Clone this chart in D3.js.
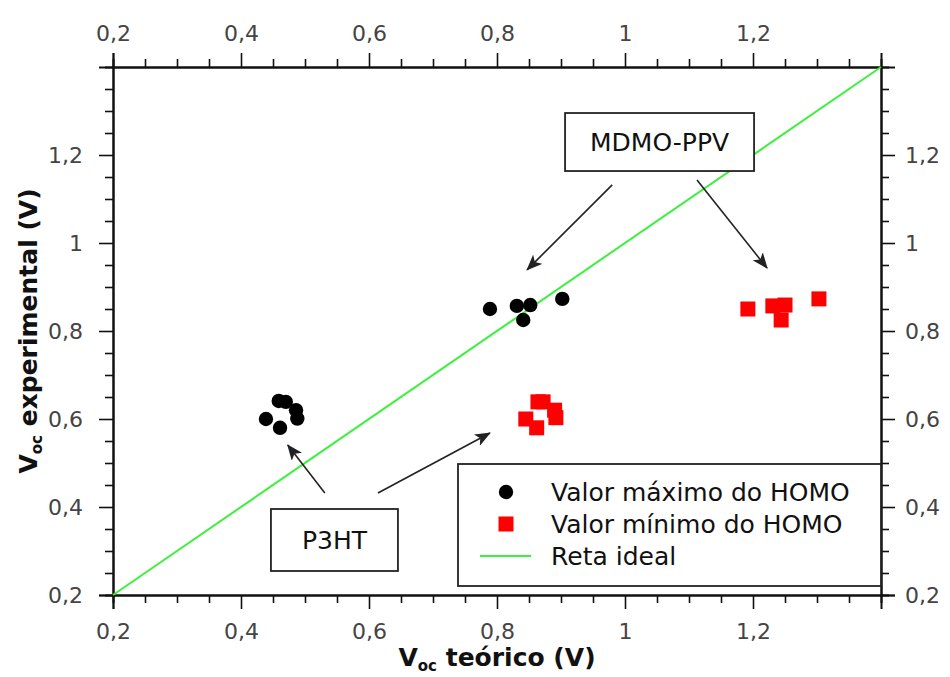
<!DOCTYPE html>
<html>
<head>
<meta charset="utf-8">
<script src="https://cdn.jsdelivr.net/npm/d3@7/dist/d3.min.js"></script>
<style>
  html, body { margin: 0; padding: 0; background: #fff; }
  svg { display: block; }
  text { font-family: "DejaVu Sans", sans-serif; }
</style>
</head>
<body>
<svg id="chart" width="950" height="677"></svg>
<script>
// ---------- data ----------
const maxHomoX = [0.439, 0.459, 0.470, 0.461, 0.486, 0.488, 0.789, 0.831, 0.852, 0.841, 0.902];
const maxHomoY = [0.600, 0.641, 0.639, 0.580, 0.620, 0.601, 0.850, 0.857, 0.859, 0.825, 0.873];
const minHomoX = [0.845, 0.864, 0.872, 0.862, 0.890, 0.892, 1.192, 1.231, 1.250, 1.244, 1.303];
const minHomoY = [0.600, 0.639, 0.639, 0.580, 0.620, 0.603, 0.850, 0.857, 0.859, 0.825, 0.873];
const idealLine = [0.2, 1.4];
const majorTicks = [0.2, 0.4, 0.6, 0.8, 1.0, 1.2];
const tickLabels = ["0,2", "0,4", "0,6", "0,8", "1", "1,2"];
const minorTicks = [0.25, 0.3, 0.35, 0.45, 0.5, 0.55, 0.65, 0.7, 0.75, 0.85, 0.9, 0.95, 1.05, 1.1, 1.15, 1.25, 1.3, 1.35];
const legendLabels = ["Valor máximo do HOMO", "Valor mínimo do HOMO", "Reta ideal"];
const annotationLabels = ["MDMO-PPV", "P3HT"];
const annotationAnchor = [[1.054, 1.2295], [0.546, 0.325]];
// arrows: [x1, y1, x2, y2] in data units
const arrowsMDMO = [[0.98, 1.132, 0.847, 0.939], [1.1125, 1.143, 1.222, 0.943]];
const arrowsP3HT = [[0.531, 0.432, 0.473, 0.541], [0.614, 0.432, 0.789, 0.568]];
const xTitle = ["V", "oc", " teórico (V)"];
const yTitle = ["V", "oc", " experimental (V)"];

// ---------- layout ----------
const svg = d3.select("#chart");
const L = 113, R = 881, T = 67, B = 595;
const x = d3.scaleLinear().domain([0.2, 1.4]).range([L, R]);
const y = d3.scaleLinear().domain([0.2, 1.4]).range([B, T]);

const fmt = d => tickLabels[majorTicks.findIndex(v => Math.abs(v - d) < 1e-9)];

function styleAxis(g) {
  g.select(".domain").attr("stroke", "#111").attr("stroke-width", 2);
  g.selectAll(".tick line").attr("stroke", "#111").attr("stroke-width", 1.6);
  g.selectAll(".tick text").attr("fill", "#444").style("font-size", "22px")
    .style("font-family", "'DejaVu Sans', sans-serif");
}

// minor ticks
const minorAxes = [
  [d3.axisBottom(x), `translate(0,${B})`],
  [d3.axisTop(x), `translate(0,${T})`],
  [d3.axisLeft(y), `translate(${L},0)`],
  [d3.axisRight(y), `translate(${R},0)`]
];
minorAxes.forEach(([ax, tr]) => {
  const g = svg.append("g").attr("transform", tr)
    .call(ax.tickValues(minorTicks).tickSize(8).tickFormat(""));
  styleAxis(g);
});
// major ticks
const gxB = svg.append("g").attr("transform", `translate(0,${B})`)
  .call(d3.axisBottom(x).tickValues(majorTicks).tickSize(14).tickPadding(14).tickFormat(fmt));
const gxT = svg.append("g").attr("transform", `translate(0,${T})`)
  .call(d3.axisTop(x).tickValues(majorTicks).tickSize(14).tickPadding(12).tickFormat(fmt));
const gyL = svg.append("g").attr("transform", `translate(${L},0)`)
  .call(d3.axisLeft(y).tickValues(majorTicks).tickSize(14).tickPadding(16).tickFormat(fmt));
const gyR = svg.append("g").attr("transform", `translate(${R},0)`)
  .call(d3.axisRight(y).tickValues(majorTicks).tickSize(14).tickPadding(10).tickFormat(fmt));
[gxB, gxT, gyL, gyR].forEach(styleAxis);

// ideal line
svg.append("line")
  .attr("x1", x(idealLine[0])).attr("y1", y(idealLine[0]))
  .attr("x2", x(idealLine[1])).attr("y2", y(idealLine[1]))
  .attr("stroke", "#3ef03e").attr("stroke-width", 2);

// points
svg.append("g").selectAll("circle").data(maxHomoX).join("circle")
  .attr("cx", d => x(d)).attr("cy", (d, i) => y(maxHomoY[i])).attr("r", 7.2).attr("fill", "#000");
const sq = 15;
svg.append("g").selectAll("rect").data(minHomoX).join("rect")
  .attr("x", d => x(d) - sq / 2).attr("y", (d, i) => y(minHomoY[i]) - sq / 2)
  .attr("width", sq).attr("height", sq).attr("fill", "#ff0000");

// arrows
svg.append("defs").append("marker")
  .attr("id", "arr").attr("viewBox", "0 0 16 13").attr("refX", 15).attr("refY", 6.5)
  .attr("markerWidth", 16).attr("markerHeight", 13).attr("markerUnits", "userSpaceOnUse")
  .attr("orient", "auto")
  .append("path").attr("d", "M0,0 L16,6.5 L0,13 L4,6.5 Z").attr("fill", "#222");
svg.append("g").selectAll("line").data(arrowsMDMO.concat(arrowsP3HT)).join("line")
  .attr("x1", d => x(d[0])).attr("y1", d => y(d[1]))
  .attr("x2", d => x(d[2])).attr("y2", d => y(d[3]))
  .attr("stroke", "#222").attr("stroke-width", 1.6).attr("marker-end", "url(#arr)");

// annotation boxes
const boxSizes = [[189, 58], [127, 62]];
annotationLabels.forEach((t, i) => {
  const cx = x(annotationAnchor[i][0]), cy = y(annotationAnchor[i][1]);
  const [w, h] = boxSizes[i];
  svg.append("rect").attr("x", cx - w / 2).attr("y", cy - h / 2).attr("width", w).attr("height", h)
    .attr("fill", "#fff").attr("stroke", "#222").attr("stroke-width", 1.8);
  svg.append("text").attr("x", cx).attr("y", cy).attr("text-anchor", "middle")
    .attr("dominant-baseline", "central").style("font-size", "25px").attr("fill", "#111").text(t);
});

// legend
const lg = svg.append("g");
lg.append("rect").attr("x", 458).attr("y", 464).attr("width", 423).attr("height", 122)
  .attr("fill", "#fff").attr("stroke", "#222").attr("stroke-width", 1.8);
const rowY = [492, 524, 556];
lg.append("circle").attr("cx", 506).attr("cy", rowY[0]).attr("r", 7.2).attr("fill", "#000");
lg.append("rect").attr("x", 506 - sq / 2).attr("y", rowY[1] - sq / 2).attr("width", sq).attr("height", sq).attr("fill", "#ff0000");
lg.append("line").attr("x1", 480).attr("x2", 531).attr("y1", rowY[2]).attr("y2", rowY[2])
  .attr("stroke", "#3ef03e").attr("stroke-width", 2);
lg.selectAll("text").data(legendLabels).join("text")
  .attr("x", 551).attr("y", (d, i) => rowY[i]).attr("dominant-baseline", "central")
  .style("font-size", "25px").attr("fill", "#111").text(d => d);

// axis titles
function title(g, parts) {
  const t = g.append("text").attr("text-anchor", "middle").style("font-size", "25px")
    .style("font-weight", "bold").attr("fill", "#111");
  t.append("tspan").text(parts[0]);
  t.append("tspan").attr("dy", 5).style("font-size", "15px").text(parts[1]);
  t.append("tspan").attr("dy", -5).text(parts[2]);
  return t;
}
title(svg.append("g").attr("transform", `translate(${(L + R) / 2},666)`), xTitle);
title(svg.append("g").attr("transform", `translate(37,${(T + B) / 2}) rotate(-90)`), yTitle);
</script>
</body>
</html>
